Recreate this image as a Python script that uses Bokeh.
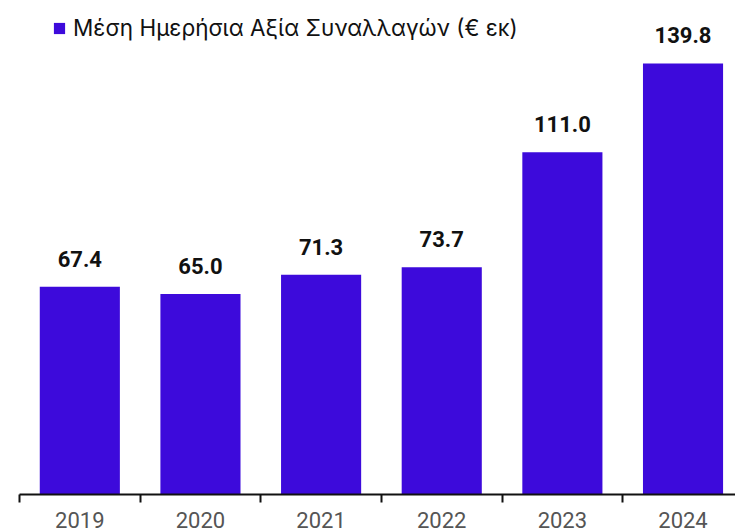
from bokeh.plotting import figure
from bokeh.models import (ColumnDataSource, Range1d, FixedTicker, Legend, LegendItem)
from bokeh.core.properties import value
from bokeh.embed import file_html
from bokeh.resources import INLINE

years = ["2019", "2020", "2021", "2022", "2023", "2024"]
values = [67.4, 65.0, 71.3, 73.7, 111.0, 139.8]
value_labels = ["67.4", "65.0", "71.3", "73.7", "111.0", "139.8"]
legend_label = "Μέση Ημερήσια Αξία Συναλλαγών (€ εκ)"

BAR = "#3d0adb"

xs = [i + 0.5 for i in range(len(years))]
src = ColumnDataSource(dict(x=xs, top=values, lab=value_labels))

p = figure(width=735, height=531, output_backend="svg", toolbar_location=None,
           x_range=Range1d(0, 5.935), y_range=Range1d(0, 157.6),
           min_border_left=19, min_border_right=0, min_border_top=8, min_border_bottom=37)
p.outline_line_color = None
p.xgrid.visible = False
p.ygrid.visible = False
p.yaxis.visible = False

r = p.vbar(x="x", top="top", width=0.664, bottom=0, source=src,
           fill_color=BAR, line_color=None)

p.text(x="x", y="top", text="lab", source=src, text_align="center",
       text_baseline="alphabetic", y_offset=-28,
       text_font=value("Roboto"), text_font_style="bold", text_font_size="22px",
       text_color="#111111")

ax = p.xaxis[0]
ax.ticker = FixedTicker(ticks=xs, minor_ticks=list(range(len(years) + 1)))
ax.major_label_overrides = {x: y for x, y in zip(xs, years)}
ax.major_tick_out = 0
ax.major_tick_in = 0
ax.minor_tick_out = 8
ax.minor_tick_in = 0
ax.minor_tick_line_color = "#111111"
ax.minor_tick_line_width = 2
ax.axis_line_color = "#111111"
ax.axis_line_width = 2
ax.major_label_standoff = 9
ax.major_label_text_font = "Roboto"
ax.major_label_text_font_size = "22px"
ax.major_label_text_color = "#555555"

legend = Legend(items=[LegendItem(label=legend_label, renderers=[r])],
                location=(33, 453), orientation="horizontal",
                glyph_width=14, glyph_height=14, label_standoff=7,
                label_text_font="Inter", label_text_font_size="22.5px",
                label_text_color="#111111", padding=0, margin=0,
                background_fill_alpha=0, border_line_color=None, label_height=20)
p.add_layout(legend)

open("out.html", "w").write(file_html(p, INLINE))
